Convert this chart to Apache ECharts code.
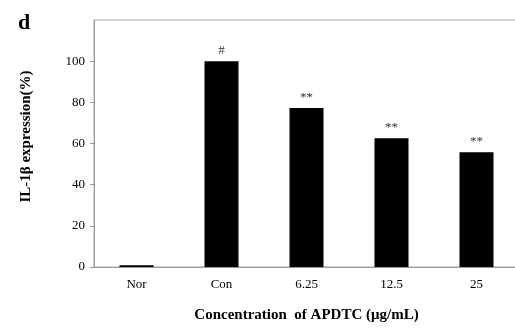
<!DOCTYPE html>
<html>
<head>
<meta charset="utf-8">
<script src="https://cdn.jsdelivr.net/npm/echarts@6/dist/echarts.min.js"></script>
<style>
  html, body { margin: 0; padding: 0; background: #fff; overflow: hidden; }
  /* a bit wider than the window so the frame's right side falls off-canvas like the original */
  #chart { width: 530px; height: 328px; }
</style>
</head>
<body>
<div id="chart"></div>
<script>
// data
var categories = ['Nor', 'Con', '6.25', '12.5', '25'];
var values = [0.8, 100, 77.2, 62.5, 55.7];
var marks = ['', '#', '**', '**', '**'];
var yTicks = [0, 20, 40, 60, 80, 100];

var chart = echarts.init(document.getElementById('chart'));
var font = 'Liberation Serif';

var option = {
  animation: false,
  title: {
    text: 'd',
    left: 13,
    top: 7,
    textStyle: { fontFamily: font, fontSize: 22, fontWeight: 'bold', color: '#000' }
  },
  grid: {
    left: 94,
    right: 11,
    top: 20,
    bottom: 59,
    show: true,
    borderColor: '#aaa',
    borderWidth: 1
  },
  xAxis: {
    type: 'category',
    data: categories,
    name: 'Concentration  of APDTC (\u03bcg/mL)',
    nameLocation: 'middle',
    nameGap: 41,
    nameTextStyle: { fontFamily: font, fontSize: 15, fontWeight: 'bold', color: '#000' },
    axisLine: { lineStyle: { color: '#999' } },
    axisTick: { inside: true, length: 3, lineStyle: { color: '#999' } },
    axisLabel: { fontFamily: font, fontSize: 13, color: '#000', margin: 11 }
  },
  yAxis: {
    type: 'value',
    min: 0,
    max: 120,
    interval: 20,
    name: 'IL-1\u03b2 expression(%)',
    nameLocation: 'middle',
    nameGap: 60,
    nameTextStyle: { fontFamily: font, fontSize: 15, fontWeight: 'bold', color: '#000', padding: [0, 0, 0, 14] },
    splitLine: { show: false },
    axisLine: { show: true, lineStyle: { color: '#999' } },
    axisTick: { show: true, length: 4, customValues: yTicks, lineStyle: { color: '#999' } },
    axisLabel: {
      fontFamily: font, fontSize: 13, color: '#000', margin: 9,
      customValues: yTicks
    }
  },
  series: [
    {
      type: 'bar',
      data: values,
      barWidth: '40%',
      itemStyle: { color: '#000' },
      label: {
        show: true,
        position: 'top',
        distance: 4,
        fontFamily: font,
        fontSize: 13,
        color: '#333',
        formatter: function (p) { return marks[p.dataIndex]; }
      }
    }
  ]
};

chart.setOption(option);
window.addEventListener('resize', function () { chart.resize(); });
</script>
</body>
</html>
